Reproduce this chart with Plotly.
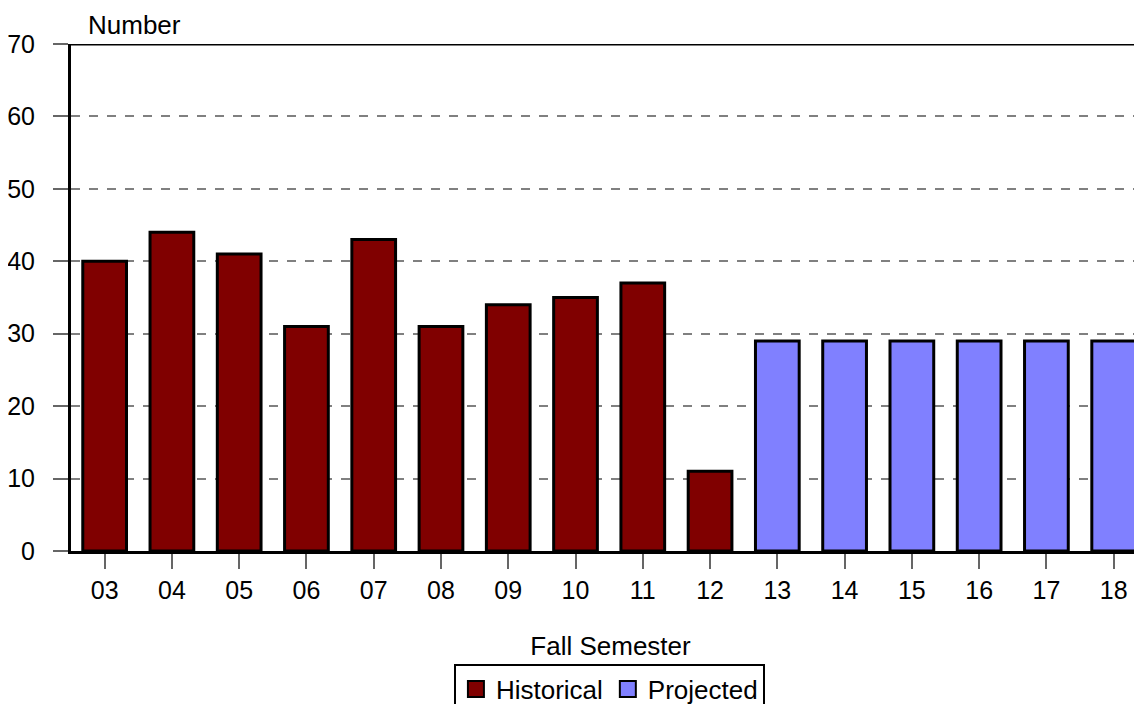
import plotly.graph_objects as go

hist_years = ["03", "04", "05", "06", "07", "08", "09", "10", "11", "12"]
hist_values = [40, 44, 41, 31, 43, 31, 34, 35, 37, 11]
proj_years = ["13", "14", "15", "16", "17", "18"]
proj_values = [29, 29, 29, 29, 29, 29]
all_years = hist_years + proj_years

hist_color = "#800000"
proj_color = "#8080ff"
fnt = dict(family="Liberation Sans, Arial, sans-serif", size=25, color="black")

fig = go.Figure()
fig.add_trace(go.Bar(x=hist_years, y=hist_values, name="Historical", showlegend=False,
                     marker=dict(color=hist_color, line=dict(color="black", width=3))))
fig.add_trace(go.Bar(x=proj_years, y=proj_values, name="Projected", showlegend=False,
                     marker=dict(color=proj_color, line=dict(color="black", width=3))))

# legend entries (bigger square swatches than the default bar icon)
for nm, col in [("Historical", hist_color), ("Projected", proj_color)]:
    fig.add_trace(go.Scatter(x=[None], y=[None], mode="markers", name=nm,
                             marker=dict(symbol="square", size=18, color=col,
                                         line=dict(color="black", width=2))))

# the page puts the figure 8px in from the top-left corner
fig.update_layout(
    width=1142, height=704,
    margin=dict(l=63, r=0, t=36, b=161, autoexpand=False),
    paper_bgcolor="white", plot_bgcolor="white",
    font=fnt,
    barmode="overlay", bargap=0.35,
    showlegend=True,
    legend=dict(orientation="h", x=0.499, xanchor="center", y=-0.222, yanchor="top",
                bordercolor="black", borderwidth=2, font=dict(size=26),
                itemwidth=30, tracegroupgap=0, itemsizing="trace"),
    xaxis=dict(type="category", categoryorder="array", categoryarray=all_years,
               range=[-0.5, 15.54], showline=True, linecolor="black", linewidth=3,
               ticks="outside", ticklen=15, tickcolor="#666666", tickwidth=2,
               ticklabelstandoff=0,
               showgrid=False, title=dict(text="Fall Semester", standoff=34, font=dict(size=26))),
    yaxis=dict(range=[0, 70], dtick=10, showline=True, linecolor="black", linewidth=3,
               ticks="outside", ticklen=15, tickcolor="#666666", tickwidth=2,
               ticklabelstandoff=13,
               showgrid=True, gridcolor="#808080", griddash="dash", gridwidth=1.5,
               zeroline=False),
)

# top border of plot frame
fig.add_shape(type="line", xref="paper", yref="y", x0=0, x1=1, y0=70, y1=70,
              line=dict(color="black", width=3))
fig.add_annotation(text="Number", xref="paper", yref="paper", x=0, y=1.0, xshift=15,
                   xanchor="left", yanchor="bottom", yshift=2, showarrow=False,
                   font=dict(size=26))

fig.write_html("out.html")
